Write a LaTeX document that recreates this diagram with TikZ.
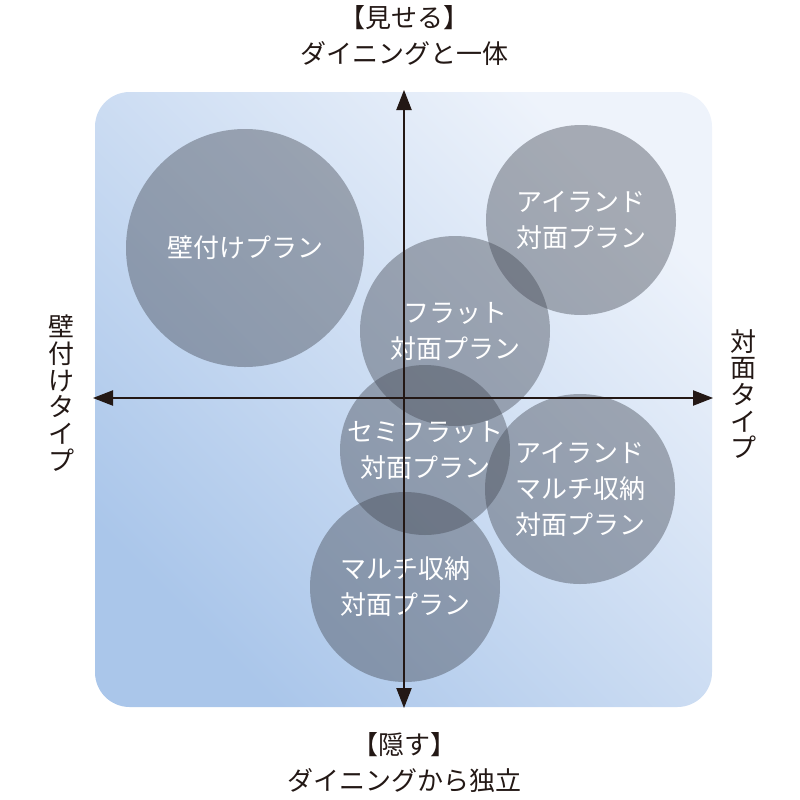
\documentclass[tikz,border=0pt]{standalone}
\usepackage{fontspec}
\newfontfamily\jp{Noto Sans CJK JP}
\usetikzlibrary{arrows.meta}
\definecolor{bgblue}{RGB}{170,198,234}
\definecolor{bgmid}{RGB}{210,223,242}
\definecolor{bglight}{RGB}{238,243,251}
\definecolor{plangray}{RGB}{66,71,82}
\definecolor{axisblack}{RGB}{35,24,21}
\begin{document}
\begin{tikzpicture}[x=0.75pt, y=-0.75pt,
    plan/.style={circle, inner sep=0pt, minimum size=#1*1.5pt, fill=plangray,
        fill opacity=0.42, text opacity=1, text=white, align=center,
        font=\jp\fontsize{19.5}{27}\selectfont},
    plan/.default=95,
    label/.style={text=axisblack, align=center, font=\jp\fontsize{19.5}{20}\selectfont},
    axis/.style={draw=axisblack, line width=0.8pt, {Triangle[length=15pt, width=11.5pt]}-{Triangle[length=15pt, width=11.5pt]}}]
    \useasboundingbox (0,0) rectangle (800,800);
    % background
    \shade [rounded corners=26pt, left color=bgblue, middle color=bgmid, right color=bglight, shading angle=135]
        (95,92) rectangle (712,707);

    % plans
    \foreach \x/\y/\r/\n/\t in {245/248/119/kabe/{壁付けプラン},
                              581/220/95/island/{アイランド\\対面プラン},
                              455/331/95/flat/{フラット\\対面プラン},
                              425/450/85/semi/{セミフラット\\対面プラン},
                              580/489/95/islandmulti/{アイランド\\マルチ収納\\対面プラン},
                              405/587/95/multi/{マルチ収納\\対面プラン}} {
        \node [plan=\r] (\n) at (\x,\y) {\t};
    }

    % axes
    \coordinate (top) at (404,90);
    \coordinate (bottom) at (404,708);
    \coordinate (left) at (93,398);
    \coordinate (right) at (713,398);
    \draw [axis] (bottom) -- (top);
    \draw [axis] (left) -- (right);

    % axis labels
    \node [label] (show) at (404,18) {【見せる】};
    \node [label] (showsub) at (404,54) {ダイニングと一体};
    \node [label] (hide) at (404,745) {【隠す】};
    \node [label] (hidesub) at (404,781) {ダイニングから独立};
    \node [label] (wall) at (61,393) {壁\\付\\け\\タ\\イ\\プ};
    \node [label] (face) at (743,394) {対\\面\\タ\\イ\\プ};
\end{tikzpicture}
\end{document}
